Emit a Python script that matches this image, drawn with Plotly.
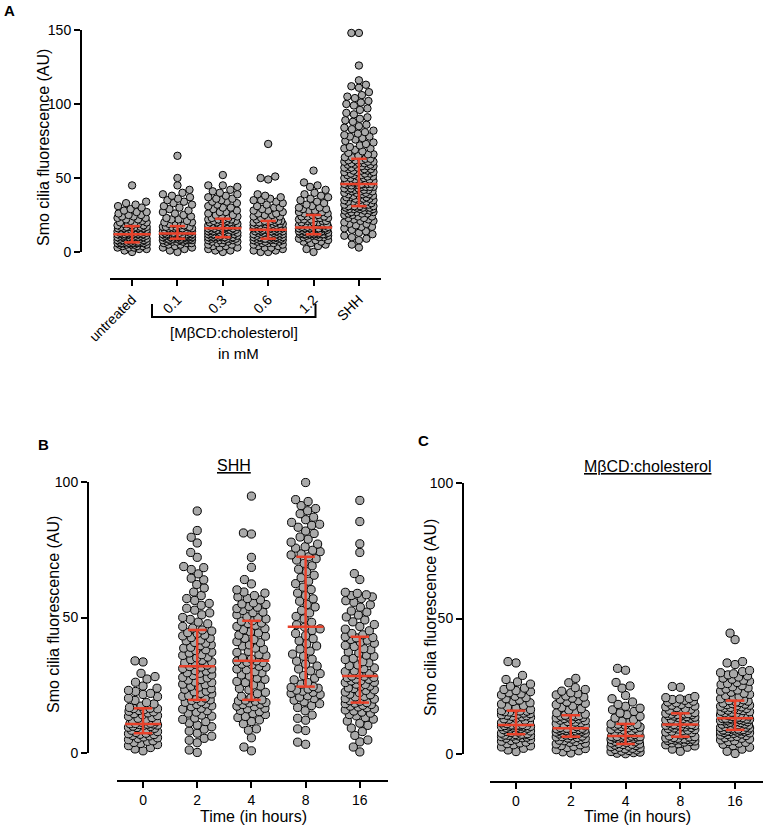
import numpy as np
import plotly.graph_objects as go

# ---------------- data ----------------
A_categories = ["untreated", "0.1", "0.3", "0.6", "1.2", "SHH"]
A_untreated = [0,1,2,2,3,3,3,4,4,4,5,5,5,5,5,6,6,6,6,6,6,6,6,7,7,7,7,7,7,7,
               8,8,8,8,8,9,9,9,9,9,9,10,10,10,10,10,10,11,11,11,11,11,11,11,12,12,12,12,12,12,
               12,13,13,13,13,13,13,14,14,14,14,14,14,15,15,15,15,15,15,16,16,16,16,16,17,17,17,17,17,17,
               18,18,18,19,19,19,20,20,20,21,21,22,22,23,23,24,24,25,25,26,27,27,28,29,30,31,32,33,34,45]
A_01 = [0,1,2,3,3,4,5,5,6,6,6,7,7,7,7,8,8,8,8,8,8,9,9,9,9,9,9,9,9,9,
        10,10,10,10,10,10,10,11,11,11,11,11,11,11,11,11,12,12,12,12,12,12,12,12,12,12,12,12,12,12,
        13,13,13,13,13,13,14,14,14,14,14,14,15,15,15,15,15,15,16,16,16,16,16,17,17,17,17,17,17,18,
        18,19,19,20,20,21,22,22,23,24,25,26,27,28,29,30,31,32,33,34,35,36,37,38,39,40,42,45,50,65]
A_03 = [0,1,1,2,3,3,4,4,5,5,6,6,7,7,7,8,8,8,8,9,9,9,9,9,10,10,10,10,10,10,
        11,11,11,11,11,12,12,12,12,12,13,13,13,13,13,13,14,14,14,14,14,15,15,15,15,15,15,16,16,16,
        16,16,17,17,17,17,17,18,18,18,18,18,19,19,19,19,20,20,20,20,20,21,21,21,21,22,22,22,22,23,
        23,24,24,25,25,26,27,27,28,29,30,30,31,32,33,34,34,35,36,36,37,38,39,40,41,42,44,45,45,52]
A_06 = [0,0,1,1,2,3,3,4,4,5,5,6,6,6,7,7,7,8,8,8,8,8,9,9,9,9,9,9,9,9,
        10,10,10,10,10,11,11,11,11,11,12,12,12,12,12,13,13,13,13,13,14,14,14,14,14,14,15,15,15,15,
        15,15,16,16,16,16,16,17,17,17,17,17,18,18,18,18,19,19,19,19,19,20,20,20,20,20,21,21,21,21,
        22,22,23,23,24,24,25,25,26,26,27,28,28,29,30,30,31,32,33,34,35,35,36,37,38,39,49,50,51,73]
A_12 = [0,2,4,5,6,7,7,8,8,9,9,10,10,10,11,11,11,11,12,12,12,12,12,12,12,12,12,
        13,13,13,13,13,13,14,14,14,14,14,14,15,15,15,15,15,15,16,16,16,16,16,16,16,16,
        17,17,17,17,18,18,18,18,19,19,19,20,20,20,21,21,21,22,22,22,23,23,23,24,24,24,25,25,
        26,26,27,27,28,28,29,29,30,30,31,32,33,34,35,36,37,38,39,40,42,44,45,47,55]
A_SHH = [3,5,8,9,10,11,12,13,14,15,16,17,17,18,19,19,20,21,21,22,22,23,23,24,24,25,25,26,26,26,
         27,27,27,28,28,28,29,29,29,29,30,30,30,30,30,31,31,31,31,31,
         32,32,32,33,33,33,34,34,34,35,35,35,36,36,36,37,37,37,38,38,38,39,39,39,40,40,40,41,41,41,
         42,42,42,42,43,43,43,44,44,44,44,45,45,45,45,46,46,46,46,46,
         47,47,47,48,48,48,49,49,49,50,50,50,51,51,51,52,52,52,53,53,53,54,54,54,55,55,55,56,56,56,
         57,57,57,58,58,58,59,59,59,60,60,60,61,61,61,62,62,62,63,63,
         64,64,65,66,66,67,68,69,70,70,71,72,73,74,75,76,77,78,78,79,80,81,82,83,84,85,86,88,89,90,
         91,93,94,96,97,99,100,101,102,104,105,106,108,111,112,113,116,126,148,148]
A_median = [12, 12.5, 16, 15, 16.5, 46]
A_q1 = [6.5, 9, 10, 9, 12, 31]
A_q3 = [17.5, 17.5, 22.5, 21, 25, 63]

time_labels = ["0", "2", "4", "8", "16"]
B_0 = [0.8,1.5,2.0,2.7,3.1,3.5,3.9,4.3,4.5,4.9,5.4,5.6,5.9,6.3,6.5,6.8,6.9,7.1,7.3,
       7.6,7.9,8.2,8.4,8.7,8.9,9.1,9.4,9.5,9.8,9.9,10.2,10.3,10.5,10.6,10.7,10.8,10.9,11.0,
       11.3,11.7,12.0,12.4,12.8,13.1,13.5,13.8,14.1,14.5,14.8,15.2,15.4,15.7,16.0,16.3,16.4,16.5,16.8,
       17.3,18.1,18.6,19.4,20.2,20.8,21.6,22.0,22.7,23.1,23.9,24.7,26.1,27.3,28.2,29.4,33.6,34.0]
B_2 = [0.2,1.1,3.8,4.7,5.4,6.2,7.3,8.1,8.8,9.7,10.3,11.1,11.6,12.4,12.9,13.6,14.0,14.7,15.1,15.6,
       16.2,16.5,17.1,17.4,17.9,18.1,18.7,18.9,19.4,19.6,
       20.1,20.3,20.9,21.2,21.8,22.0,22.6,22.8,23.5,23.7,24.3,24.6,25.2,25.4,26.0,26.2,26.9,27.1,27.7,27.9,
       28.6,28.8,29.4,29.6,30.2,30.4,31.0,31.2,31.7,31.9,
       32.4,32.7,33.3,33.6,34.2,34.5,35.1,35.4,36.0,36.3,36.9,37.2,37.8,38.1,38.7,39.0,39.6,39.9,40.5,40.8,
       41.4,41.7,42.3,42.6,43.2,43.5,44.1,44.4,45.0,45.4,
       46.1,46.7,47.7,48.3,49.3,50.0,51.0,51.7,52.7,53.4,54.5,55.2,56.3,57.0,58.1,59.4,60.9,62.2,63.9,64.5,
       66.1,67.7,68.4,68.8,72.2,74.0,77.5,79.6,82.1,89.3]
B_4 = [0.8,2.2,5.6,8.4,8.9,10.8,11.6,12.2,13.1,13.5,14.2,14.6,15.3,15.7,16.3,16.5,17.1,17.3,17.9,18.0,
       18.5,18.6,19.1,19.2,19.5,19.6,
       20.4,20.9,21.9,22.4,23.3,23.8,24.7,25.1,26.0,26.4,27.2,27.6,28.4,28.8,29.6,30.0,30.7,31.0,31.7,32.0,
       32.6,32.8,33.4,33.5,33.9,34.0,
       34.7,35.1,35.9,36.3,37.1,37.5,38.3,38.7,39.5,39.9,40.7,41.1,41.9,42.3,43.1,43.5,44.3,44.7,45.5,45.9,
       46.7,47.1,47.8,48.0,48.6,48.8,
       49.5,49.9,50.3,51.0,51.8,52.0,52.6,53.3,53.8,54.1,54.8,55.0,55.4,56.5,57.0,57.6,58.1,59.0,59.4,
       60.2,62.4,64.0,68.5,72.2,80.8,81.2,94.8]
B_8 = [3.2,4.0,8.3,8.9,12.1,12.8,14.0,15.6,16.8,17.5,18.2,18.9,19.5,20.1,20.6,21.1,21.6,22.0,22.4,22.8,
       23.2,23.6,23.9,24.2,24.5,
       25.4,26.0,27.0,27.6,28.6,29.3,30.3,31.0,32.1,32.8,33.9,34.6,35.7,36.5,37.6,38.4,39.5,40.3,41.4,42.2,
       43.3,44.1,45.2,45.8,46.5,
       47.3,48.2,49.5,50.4,51.7,52.6,53.9,54.8,56.0,56.9,58.1,59.0,60.3,61.2,62.5,63.4,64.7,65.6,66.9,67.8,
       69.1,70.0,71.2,71.7,72.4,
       73.1,73.5,74.3,74.8,75.6,76.1,77.1,77.8,78.9,79.7,81.0,81.9,83.3,84.0,84.4,85.1,86.1,87.0,88.3,89.4,
       90.2,91.3,92.8,93.5,99.8]
B_16 = [0.4,2.2,4.1,4.8,6.5,7.9,9.2,10.2,11.0,11.8,12.5,13.1,13.7,14.2,14.7,15.1,15.5,15.9,16.3,16.7,
        17.0,17.3,17.6,17.9,18.2,18.4,18.6,
        19.1,19.3,19.9,20.1,20.7,20.9,21.5,21.7,22.3,22.5,23.1,23.3,23.8,24.0,24.6,24.7,25.3,25.4,26.0,26.1,
        26.6,26.7,27.2,27.3,27.8,27.9,28.3,28.4,
        29.0,29.3,30.0,30.3,31.1,31.4,32.2,32.5,33.3,33.7,34.5,34.9,35.7,36.1,36.9,37.3,38.1,38.5,39.3,39.7,
        40.5,40.9,41.6,41.9,42.5,42.6,42.9,
        43.6,44.1,45.1,45.7,46.7,47.4,48.4,49.1,50.2,50.9,52.0,52.4,53.8,54.7,55.6,56.2,57.0,57.6,58.1,58.4,
        58.9,59.3,64.0,66.2,74.0,77.2,85.4,93.2]
B_median = [10.7, 32, 34, 46.6, 28.4]
B_q1 = [7.3, 19.6, 19.6, 24.5, 18.6]
B_q3 = [16.5, 45.4, 48.8, 72.4, 42.9]

C_0 = [0.9,1.5,2.1,2.6,3.0,3.4,3.8,4.1,4.4,4.7,5.0,5.3,5.5,5.8,6.0,6.2,6.4,6.6,6.7,6.8,6.9,7.0,7.1,7.2,7.3,
       7.5,7.7,7.9,8.1,8.3,8.5,8.7,8.8,9.0,9.2,9.3,9.5,9.6,9.8,9.9,10.0,10.1,10.2,10.3,10.4,10.5,10.5,10.6,10.7,10.7,
       10.9,11.2,11.5,11.8,12.0,12.3,12.5,12.8,13.0,13.2,13.5,13.7,13.9,14.1,14.3,14.5,14.7,14.9,15.1,15.3,
       15.5,15.6,15.8,15.9,16.0,
       16.4,16.9,17.4,17.9,18.4,18.9,19.4,19.9,20.4,20.8,21.3,21.8,22.2,22.6,23.0,23.4,23.8,24.3,25.0,25.8,
       26.6,27.5,29.0,33.6,34.1]
C_2 = [0.4,0.8,1.2,1.6,2.0,2.4,2.8,3.1,3.4,3.7,4.0,4.3,4.6,4.9,5.1,5.3,5.5,5.7,5.9,6.1,6.3,6.4,
       6.6,6.8,7.0,7.2,7.4,7.6,7.7,7.9,8.0,8.1,8.3,8.4,8.5,8.6,8.7,8.9,9.0,9.1,9.2,9.3,9.4,9.5,9.5,
       9.8,10.1,10.4,10.7,11.0,11.2,11.5,11.8,12.0,12.3,12.5,12.7,12.9,13.1,13.3,13.5,13.7,13.8,14.0,14.1,14.2,14.3,
       14.7,15.2,15.7,16.2,16.7,17.2,17.7,18.2,18.7,19.2,19.7,20.2,20.6,21.0,21.4,21.8,22.2,22.6,23.2,23.8,24.5,26.3,27.9]
C_4 = [0.1,0.3,0.5,0.7,0.9,1.1,1.3,1.5,1.7,1.9,2.1,2.3,2.5,2.7,2.9,3.1,3.3,3.5,3.6,3.7,
       3.9,4.1,4.3,4.5,4.7,4.9,5.0,5.2,5.4,5.5,5.7,5.8,6.0,6.1,6.2,6.3,6.4,6.5,6.5,6.6,
       6.9,7.2,7.5,7.8,8.1,8.3,8.6,8.8,9.1,9.3,9.5,9.7,9.9,10.1,10.3,10.5,10.7,10.9,11.0,11.1,
       11.6,12.1,12.7,13.3,13.9,14.5,15.1,15.7,16.3,16.9,17.6,18.3,19.2,20.4,21.6,24.3,25.1,26.4,30.9,31.6]
C_8 = [1.0,1.8,2.5,3.0,3.4,3.8,4.1,4.4,4.6,4.8,5.0,5.1,5.2,5.3,5.4,5.5,5.6,5.8,5.9,6.1,6.3,6.4,
       6.7,7.0,7.3,7.6,7.9,8.1,8.4,8.6,8.8,9.0,9.2,9.4,9.6,9.8,10.0,10.2,10.3,10.5,10.6,10.7,10.8,10.9,10.9,
       11.2,11.5,11.7,12.0,12.2,12.4,12.6,12.8,13.0,13.2,13.4,13.6,13.8,14.0,14.2,14.4,14.5,14.6,14.7,14.8,14.9,15.0,
       15.3,15.6,15.9,16.2,16.5,16.8,17.1,17.4,17.7,18.0,18.3,18.6,18.9,19.2,19.5,19.8,20.1,20.3,20.5,20.8,21.2,24.6,24.9]
C_16 = [0.2,1.0,1.8,2.5,3.1,3.6,4.0,4.3,4.6,4.9,5.2,5.5,5.8,6.0,6.3,6.5,6.8,7.0,7.2,7.4,7.6,7.8,7.9,8.1,8.2,
        8.3,8.4,8.5,8.6,8.7,8.8,8.9,
        9.0,9.2,9.3,9.5,9.6,9.8,9.9,10.1,10.2,10.4,10.5,10.7,10.8,11.0,11.1,11.3,11.4,11.6,11.7,11.9,12.0,12.2,
        12.3,12.4,12.5,12.6,12.7,12.8,12.9,13.0,13.1,13.1,13.2,
        13.4,13.6,13.8,14.0,14.2,14.4,14.6,14.8,15.0,15.2,15.4,15.6,15.8,16.0,16.2,16.4,16.6,16.8,17.0,17.2,
        17.4,17.6,17.8,18.0,18.2,18.4,18.6,18.8,19.0,19.2,19.5,19.7,
        20.0,20.4,20.8,21.2,21.6,22.0,22.4,22.8,23.2,23.6,24.0,24.4,24.8,25.2,25.6,26.0,26.4,26.8,27.2,27.6,
        28.0,28.4,28.8,29.2,29.6,30.0,30.4,30.8,33.0,33.6,34.1,42.2,44.6]
C_median = [10.7, 9.5, 6.6, 10.9, 13.2]
C_q1 = [7.3, 6.4, 3.7, 6.4, 8.9]
C_q3 = [16.0, 14.3, 11.1, 15.0, 19.7]

# ---------------- styling ----------------
W, H = 764, 825
FONT = "Liberation Sans, Arial, Helvetica, sans-serif"
GRAY = "#a9a9a9"
RED = "#e8412a"


def px(x):
    return x / W


def py(y):
    return 1 - y / H


def swarm(vals, unit_px, diam, maxw):
    """beeswarm offsets in pixels"""
    ys = np.asarray(vals, dtype=float) * unit_px
    order = np.argsort(ys, kind="stable")
    cands = np.arange(-maxw, maxw + 1e-9, 0.5)
    cands = cands[np.argsort(np.abs(cands), kind="stable")]
    xs = np.zeros(len(ys))
    pxs, pys = [], []
    for i in order:
        y = ys[i]
        if pxs:
            ax = np.array(pxs)
            ay = np.array(pys)
            m = np.abs(ay - y) < diam
            nx, ny = ax[m], ay[m]
        else:
            nx = np.array([])
        if len(nx) == 0:
            x = 0.0
        else:
            d = np.sqrt((cands[:, None] - nx[None, :]) ** 2 + (y - ny[None, :]) ** 2).min(axis=1)
            ok = d >= diam * 0.98
            x = cands[ok][0] if ok.any() else cands[np.argmax(d)]
        xs[i] = x
        pxs.append(x)
        pys.append(y)
    return xs


fig = go.Figure()

panels = [
    dict(groups=[A_untreated, A_01, A_03, A_06, A_12, A_SHH], med=A_median, q1=A_q1, q3=A_q3,
         xa="x", ya="y", cat_px=45.2, unit_px=1.48, diam=7.4, medw=0.41, capw=0.17),
    dict(groups=[B_0, B_2, B_4, B_8, B_16], med=B_median, q1=B_q1, q3=B_q3,
         xa="x2", ya="y2", cat_px=54.2, unit_px=2.71, diam=8.2, medw=0.33, capw=0.17),
    dict(groups=[C_0, C_2, C_4, C_8, C_16], med=C_median, q1=C_q1, q3=C_q3,
         xa="x3", ya="y3", cat_px=54.75, unit_px=2.71, diam=8.2, medw=0.33, capw=0.17),
]

for p in panels:
    for k, vals in enumerate(p["groups"]):
        off = swarm(vals, p["unit_px"], p["diam"], 14.5)
        fig.add_trace(go.Scatter(
            x=k + off / p["cat_px"], y=vals, mode="markers", xaxis=p["xa"], yaxis=p["ya"],
            marker=dict(size=p["diam"], color=GRAY, line=dict(color="black", width=1)),
            cliponaxis=False, showlegend=False, hoverinfo="skip"))
    ex, ey = [], []
    for k in range(len(p["groups"])):
        m, a, b = p["med"][k], p["q1"][k], p["q3"][k]
        ex += [k - p["medw"], k + p["medw"], None, k, k, None,
               k - p["capw"], k + p["capw"], None, k - p["capw"], k + p["capw"], None]
        ey += [m, m, None, a, b, None, a, a, None, b, b, None]
    fig.add_trace(go.Scatter(x=ex, y=ey, mode="lines", xaxis=p["xa"], yaxis=p["ya"],
                             line=dict(color=RED, width=2.5), cliponaxis=False,
                             showlegend=False, hoverinfo="skip"))

axis_common = dict(showgrid=False, zeroline=False, showline=True, linecolor="black", linewidth=2,
                   ticks="outside", ticklen=6, tickwidth=2, tickcolor="black", automargin=False,
                   tickfont=dict(family=FONT, size=14, color="black"))

fig.update_layout(
    width=W, height=H, margin=dict(l=0, r=0, t=0, b=0, autoexpand=False),
    paper_bgcolor="white", plot_bgcolor="white",
    font=dict(family=FONT, color="black"),
    xaxis=dict(domain=[px(110), px(381)], anchor="free", position=py(279), range=[-0.487, 5.487],
               tickvals=list(range(6)), ticktext=A_categories, tickangle=-45, **axis_common),
    yaxis=dict(domain=[py(252), py(30)], anchor="free", position=px(81), range=[0, 150],
               tickvals=[0, 50, 100, 150], **axis_common),
    xaxis2=dict(domain=[px(117), px(388)], anchor="free", position=py(781), range=[-0.48, 4.52],
                tickvals=list(range(5)), ticktext=time_labels, **axis_common),
    yaxis2=dict(domain=[py(753), py(482)], anchor="free", position=px(88), range=[0, 100],
                tickvals=[0, 50, 100], **axis_common),
    xaxis3=dict(domain=[px(490), px(763)], anchor="free", position=py(782), range=[-0.475, 4.51],
                tickvals=list(range(5)), ticktext=time_labels, **axis_common),
    yaxis3=dict(domain=[py(754), py(483)], anchor="free", position=px(463), range=[0, 100],
                tickvals=[0, 50, 100], **axis_common),
)


def ann(text, x, y, size=16, angle=0, bold=False):
    fig.add_annotation(text=f"<b>{text}</b>" if bold else text, x=px(x), y=py(y),
                       xref="paper", yref="paper", showarrow=False, textangle=angle,
                       font=dict(family=FONT, size=size, color="black"),
                       xanchor="center", yanchor="middle")


ann("A", 9, 11, size=15, bold=True)
ann("B", 43, 444, size=15, bold=True)
ann("C", 423, 440, size=15, bold=True)
ann("Smo cilia fluorescence (AU)", 43, 148, angle=-90)
ann("Smo cilia fluorescence (AU)", 53, 615, angle=-90)
ann("Smo cilia fluorescence (AU)", 430, 617, angle=-90)
ann("[MβCD:cholesterol]", 234, 333, size=15)
ann("in mM", 238, 353, size=15)
ann("<u>SHH</u>", 234, 465)
ann("<u>MβCD:cholesterol</u>", 647, 466)
ann("Time (in hours)", 253, 816)
ann("Time (in hours)", 637, 816)

# bracket under the MβCD:cholesterol doses
fig.add_shape(type="path", path=f"M {px(152)} {py(304)} L {px(152)} {py(317)} L {px(315.5)} {py(317)} L {px(315.5)} {py(304)}",
              xref="paper", yref="paper", line=dict(color="black", width=2))

fig.write_html("out.html", config={"displayModeBar": False},
               post_script="document.body.style.margin='0px';")
